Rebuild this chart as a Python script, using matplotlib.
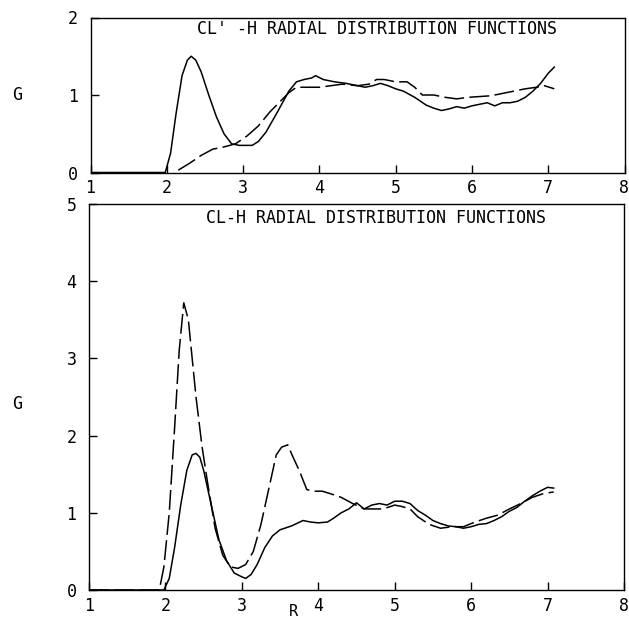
import matplotlib
matplotlib.use("Agg")
import matplotlib.pyplot as plt

# ---- data ----
top_solid_r = [1.0, 1.98, 2.05, 2.12, 2.2, 2.27, 2.32, 2.38, 2.45, 2.55, 2.65, 2.75, 2.85, 2.95, 3.05, 3.12, 3.2, 3.3,
               3.45, 3.6, 3.7, 3.8, 3.9, 3.95, 4.05, 4.2, 4.35, 4.5, 4.6, 4.7, 4.8, 4.9, 5.0, 5.1, 5.25, 5.4, 5.5, 5.6,
               5.7, 5.8, 5.9, 6.0, 6.1, 6.2, 6.3, 6.4, 6.5, 6.6, 6.7, 6.8, 6.9, 7.0, 7.08]
top_solid_g = [0.0, 0.0, 0.25, 0.75, 1.25, 1.45, 1.5, 1.45, 1.3, 1.0, 0.72, 0.5, 0.37, 0.35, 0.35, 0.35, 0.4, 0.52,
               0.78, 1.05, 1.17, 1.2, 1.22, 1.25, 1.2, 1.17, 1.15, 1.12, 1.1, 1.12, 1.15, 1.12, 1.08, 1.05, 0.97, 0.87, 0.83, 0.8,
               0.82, 0.85, 0.83, 0.86, 0.88, 0.9, 0.86, 0.9, 0.9, 0.92, 0.97, 1.05, 1.15, 1.28, 1.36]

top_dash_r = [2.15, 2.3, 2.45, 2.6, 2.75, 2.9, 3.05, 3.2, 3.35, 3.5, 3.6, 3.7, 3.85, 4.0, 4.15, 4.3, 4.5, 4.65, 4.75,
              4.85, 5.0, 5.15, 5.25, 5.35, 5.5, 5.65, 5.8, 5.95, 6.1, 6.25, 6.4, 6.55, 6.7, 6.85, 6.95, 7.08]
top_dash_g = [0.03, 0.12, 0.22, 0.3, 0.33, 0.37, 0.47, 0.6, 0.78, 0.93, 1.03, 1.1, 1.1, 1.1, 1.12, 1.14, 1.12, 1.14, 1.2,
              1.2, 1.17, 1.17, 1.1, 1.0, 1.0, 0.97, 0.95, 0.97, 0.98, 0.99, 1.02, 1.05, 1.08, 1.1, 1.12, 1.08]

bot_solid_r = [1.0, 1.98, 2.05, 2.12, 2.2, 2.28, 2.35, 2.4, 2.45, 2.5, 2.6, 2.7, 2.8, 2.9, 3.0, 3.05, 3.12, 3.2, 3.3,
               3.4, 3.5, 3.65, 3.8, 3.9, 4.0, 4.12, 4.2, 4.3, 4.4, 4.5, 4.6, 4.7, 4.8, 4.9, 5.0, 5.1, 5.2, 5.3, 5.4,
               5.5, 5.6, 5.7, 5.8, 5.9, 6.0, 6.1, 6.2, 6.3, 6.4, 6.5, 6.6, 6.7, 6.8, 6.9, 7.0, 7.08]
bot_solid_g = [0.0, 0.0, 0.15, 0.55, 1.1, 1.55, 1.75, 1.77, 1.72, 1.55, 1.1, 0.65, 0.38, 0.22, 0.17, 0.15, 0.2, 0.33, 0.55,
               0.7, 0.78, 0.83, 0.9, 0.88, 0.87, 0.88, 0.93, 1.0, 1.05, 1.13, 1.05, 1.1, 1.12, 1.1, 1.15, 1.15, 1.12, 1.03, 0.97,
               0.9, 0.86, 0.83, 0.82, 0.8, 0.82, 0.85, 0.86, 0.9, 0.95, 1.02, 1.07, 1.15, 1.22, 1.28, 1.33, 1.32]

bot_dash_r = [1.0, 1.92, 1.98, 2.05, 2.12, 2.18, 2.24, 2.3, 2.35, 2.4, 2.48, 2.55, 2.65, 2.75, 2.85, 2.95, 3.05, 3.15,
              3.25, 3.35, 3.45, 3.52, 3.6, 3.67, 3.75, 3.85, 3.95, 4.05, 4.15, 4.3, 4.45, 4.6, 4.7, 4.85, 5.0, 5.1,
              5.2, 5.3, 5.45, 5.6, 5.75, 5.9, 6.05, 6.2, 6.35, 6.5, 6.65, 6.8, 6.95, 7.08]
bot_dash_g = [0.0, 0.0, 0.3, 1.0, 2.1, 3.1, 3.72, 3.5, 3.0, 2.5, 1.85, 1.4, 0.8, 0.45, 0.3, 0.28, 0.33, 0.5,
              0.85, 1.3, 1.75, 1.85, 1.88, 1.72, 1.55, 1.3, 1.28, 1.28, 1.25, 1.2, 1.12, 1.05, 1.05, 1.05, 1.1, 1.08,
              1.05, 0.95, 0.85, 0.8, 0.82, 0.82, 0.88, 0.93, 0.97, 1.05, 1.12, 1.2, 1.25, 1.27]

top_title = "CL' -H RADIAL DISTRIBUTION FUNCTIONS"
bot_title = "CL-H RADIAL DISTRIBUTION FUNCTIONS"
x_ticks = [1, 2, 3, 4, 5, 6, 7, 8]
top_yticks = [0, 1, 2]
bot_yticks = [0, 1, 2, 3, 4, 5]

plt.rcParams['font.family'] = ['DejaVu Sans Mono']
fig = plt.figure(figsize=(6.29, 6.27), dpi=100)

W, H = 629.0, 627.0
ax1 = fig.add_axes([90.5 / W, 1 - 172.5 / H, 534 / W, 155 / H])
ax2 = fig.add_axes([89 / W, 1 - 590 / H, 535 / W, 386 / H])

dash = (0, (13, 3.5))
ax1.plot(top_solid_r, top_solid_g, color='black', lw=1.1)
ax1.plot(top_dash_r, top_dash_g, color='black', lw=1.1, linestyle=dash)
ax2.plot(bot_solid_r, bot_solid_g, color='black', lw=1.1)
ax2.plot(bot_dash_r, bot_dash_g, color='black', lw=1.1, linestyle=dash)

for ax, yt, title, ttop in [(ax1, top_yticks, top_title, 11.0), (ax2, bot_yticks, bot_title, 14.0)]:
    ax.set_xlim(1, 8)
    ax.set_ylim(yt[0], yt[-1])
    ax.set_xticks(x_ticks)
    ax.set_yticks(yt)
    ax.tick_params(direction='in', length=6, width=1, labelsize=12)
    ax.tick_params(axis='y', pad=9)
    ax.tick_params(axis='x', pad=5)
    for s in ax.spines.values():
        s.set_linewidth(1.0)
    hpx = ax.get_position().height * H
    ax.text(0.537, 1 - ttop / hpx, title, transform=ax.transAxes, ha='center', va='center', fontsize=12)
    ax.set_ylabel('G', rotation=0, fontsize=12, labelpad=0, va='center', ha='center')

ax1.yaxis.set_label_coords((17 - 90.5) / 534, (172.5 - 95) / 155)
ax2.yaxis.set_label_coords((17 - 89) / 535, (590 - 404) / 386)

fig.text(293 / W, 1 - 612 / H, 'R', ha='center', va='center', fontsize=11)

fig.savefig('out.png', dpi=100)
